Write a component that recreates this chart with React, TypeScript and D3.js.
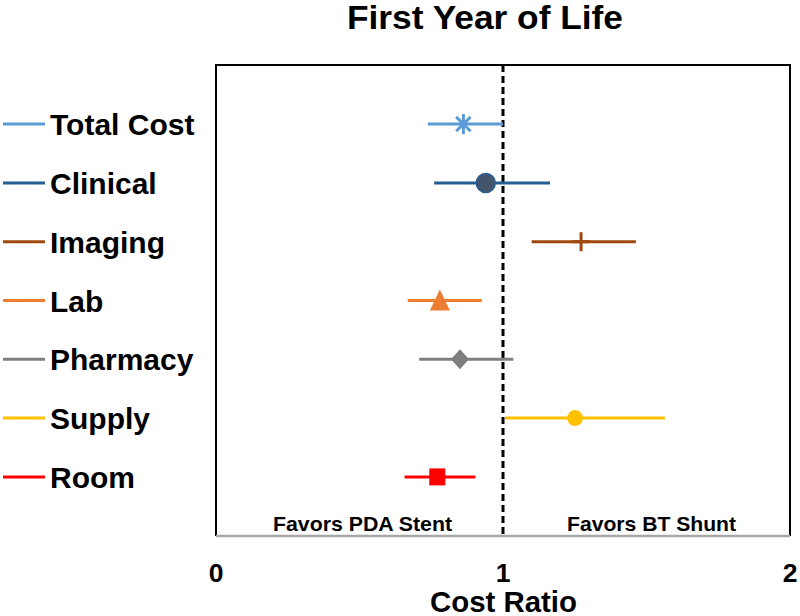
import React from "react";
import * as d3 from "d3";

const categories = ["Total Cost", "Clinical", "Imaging", "Lab", "Pharmacy", "Supply", "Room"];
const estimates = [0.862, 0.94, 1.272, 0.78, 0.85, 1.251, 0.771];
const lowers = [0.738, 0.76, 1.1, 0.668, 0.708, 1.007, 0.657];
const uppers = [1.0, 1.164, 1.463, 0.926, 1.036, 1.564, 0.904];
const colors = ["#5B9BD5", "#255E91", "#9E480E", "#ED7D31", "#7F7F7F", "#FFC000", "#FF0000"];
const markers = ["asterisk", "circle", "plus", "triangle", "diamond", "smallcircle", "square"];
const xTicks = [0, 1, 2];

const W = 800;
const H = 616;
const FONT = "Liberation Sans, Arial, sans-serif";

function Marker({ kind, x, y, color }: { kind: string; x: number; y: number; color: string }) {
  switch (kind) {
    case "asterisk": {
      const r = 10;
      const d = r * 0.72;
      return (
        <g stroke={color} strokeWidth={3}>
          <line x1={x} y1={y - r} x2={x} y2={y + r} />
          <line x1={x - d} y1={y - d} x2={x + d} y2={y + d} />
          <line x1={x - d} y1={y + d} x2={x + d} y2={y - d} />
        </g>
      );
    }
    case "circle":
      return <circle cx={x} cy={y} r={9.5} fill="#44546A" stroke="#255E91" strokeWidth={1.5} />;
    case "plus":
      return (
        <g stroke={color} strokeWidth={3}>
          <line x1={x} y1={y - 9.5} x2={x} y2={y + 9.5} />
          <line x1={x - 9} y1={y} x2={x + 9} y2={y} />
        </g>
      );
    case "triangle":
      return <path d={`M${x},${y - 11}L${x + 10},${y + 10}L${x - 10},${y + 10}Z`} fill={color} />;
    case "diamond":
      return <path d={`M${x},${y - 10}L${x + 9},${y}L${x},${y + 10}L${x - 9},${y}Z`} fill={color} />;
    case "smallcircle":
      return <circle cx={x} cy={y} r={8} fill={color} />;
    case "square":
      return <rect x={x - 8} y={y - 8.5} width={16} height={17} fill={color} />;
    default:
      return null;
  }
}

export default function App() {
  const x = d3.scaleLinear().domain([0, 2]).range([216, 790]);
  const yb = d3.scaleBand().domain(categories).range([94.7, 506.3]);
  const yc = (c: string) => (yb(c) as number) + yb.bandwidth() / 2;
  const top = 65;
  const bottom = 536;

  return (
    <svg width={W} height={H} style={{ position: "absolute", left: 0, top: 0 }} fontFamily={FONT}>
      <rect width={W} height={H} fill="#fff" />
      <text x={485} y={28.5} textAnchor="middle" fontSize={32.5} fontWeight="bold" textLength={276} lengthAdjust="spacingAndGlyphs">
        First Year of Life
      </text>
      {/* plot frame */}
      <path
        d={`M${x(0)},${bottom}L${x(0)},${top}L${x(2)},${top}L${x(2)},${bottom}`}
        fill="none"
        stroke="#000"
        strokeWidth={2}
      />
      <line x1={x(0)} x2={x(2)} y1={bottom} y2={bottom} stroke="#A6A6A6" strokeWidth={2.5} />
      {/* reference line */}
      <line x1={x(1)} x2={x(1)} y1={top} y2={bottom} stroke="#000" strokeWidth={3} strokeDasharray="7,4" />
      {/* error bars and markers */}
      {categories.map((c, i) => (
        <g key={c}>
          <line x1={x(lowers[i])} x2={x(uppers[i])} y1={yc(c)} y2={yc(c)} stroke={colors[i]} strokeWidth={3} />
          <Marker kind={markers[i]} x={x(estimates[i])} y={yc(c)} color={colors[i]} />
        </g>
      ))}
      {/* legend */}
      {categories.map((c, i) => (
        <g key={"lg" + c}>
          <line x1={3} x2={45} y1={yc(c)} y2={yc(c)} stroke={colors[i]} strokeWidth={3} />
          <text x={50} y={yc(c) + 11} fontSize={30} fontWeight="bold">
            {c}
          </text>
        </g>
      ))}
      <text x={362.5} y={531} textAnchor="middle" fontSize={21} fontWeight="bold" textLength={179} lengthAdjust="spacingAndGlyphs">
        Favors PDA Stent
      </text>
      <text x={651.5} y={531} textAnchor="middle" fontSize={21} fontWeight="bold" textLength={169} lengthAdjust="spacingAndGlyphs">
        Favors BT Shunt
      </text>
      {xTicks.map((t) => (
        <text key={t} x={x(t)} y={581.5} textAnchor="middle" fontSize={26.5} fontWeight="bold">
          {t}
        </text>
      ))}
      <text x={503.5} y={612} textAnchor="middle" fontSize={30} fontWeight="bold" textLength={147} lengthAdjust="spacingAndGlyphs">
        Cost Ratio
      </text>
    </svg>
  );
}
